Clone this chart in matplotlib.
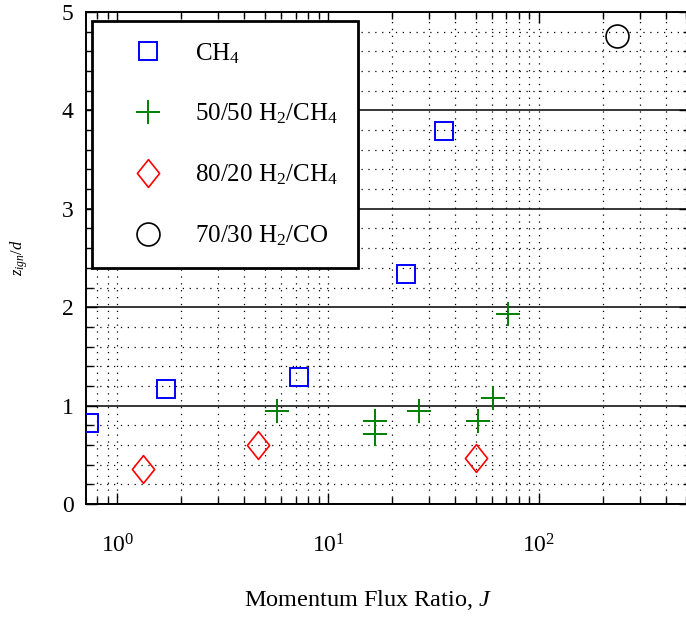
import matplotlib
matplotlib.use("Agg")
import matplotlib.pyplot as plt
from matplotlib.path import Path
from matplotlib.ticker import LogLocator, MultipleLocator, NullFormatter, LogFormatterMathtext

plt.rcParams["font.family"] = "serif"
plt.rcParams["font.serif"] = ["Liberation Serif", "DejaVu Serif"]
plt.rcParams["mathtext.fontset"] = "custom"
plt.rcParams["mathtext.rm"] = "Liberation Serif"
plt.rcParams["mathtext.it"] = "Liberation Serif:italic"
plt.rcParams["font.size"] = 16

# Ignition height vs momentum flux ratio
ch4_J = [0.735, 1.70, 7.25, 23.3, 35.4]
ch4_z = [0.82, 1.17, 1.29, 2.34, 3.79]

h2ch4_5050_J = [5.72, 16.6, 16.6, 26.9, 51.3, 60.4, 71.1]
h2ch4_5050_z = [0.95, 0.84, 0.71, 0.95, 0.84, 1.08, 1.93]

h2ch4_8020_J = [1.32, 4.65, 50.4]
h2ch4_8020_z = [0.36, 0.60, 0.47]

h2co_7030_J = [234.0]
h2co_7030_z = [4.76]

# slightly narrow diamond like the classic MATLAB marker
diamond = Path([(0, 1), (0.8, 0), (0, -1), (-0.8, 0), (0, 1)],
               [Path.MOVETO, Path.LINETO, Path.LINETO, Path.LINETO, Path.CLOSEPOLY])

fig = plt.figure(figsize=(6.86, 6.17), dpi=100)
ax = fig.add_axes([86 / 686, 113 / 617, 604 / 686, 492 / 617])

ax.plot(ch4_J, ch4_z, "s", ms=12.5, mfc="none", mec="#0000ff", mew=1.4,
        label="CH$_4$", zorder=5)
ax.plot(h2ch4_5050_J, h2ch4_5050_z, "+", ms=17, mec="#008000", mew=1.4,
        label="50/50 H$_2$/CH$_4$", zorder=5)
ax.plot(h2ch4_8020_J, h2ch4_8020_z, marker=diamond, ls="none", ms=20, mfc="none",
        mec="#ff0000", mew=1.2, label="80/20 H$_2$/CH$_4$", zorder=5)
ax.plot(h2co_7030_J, h2co_7030_z, "o", ms=16.5, mfc="none", mec="black", mew=1.2,
        label="70/30 H$_2$/CO", zorder=5)

ax.set_xscale("log")
ax.set_xlim(0.71, 520)
ax.set_ylim(0, 5)

ax.xaxis.set_major_locator(LogLocator(base=10))
ax.xaxis.set_major_formatter(LogFormatterMathtext())
ax.xaxis.set_minor_locator(LogLocator(base=10, subs=range(2, 10)))
ax.xaxis.set_minor_formatter(NullFormatter())
ax.yaxis.set_major_locator(MultipleLocator(1))
ax.yaxis.set_minor_locator(MultipleLocator(0.2))

ax.tick_params(which="both", direction="in", top=True, right=True, width=1)
ax.tick_params(which="major", length=8)
ax.tick_params(which="minor", length=5)
ax.tick_params(axis="x", which="major", pad=22, labelsize=17)
ax.tick_params(axis="y", which="major", pad=9, labelsize=17)

# dotted grid everywhere, solid lines at the integer heights
dots = (0, (1, 4.5))
ax.grid(True, axis="x", which="both", color="black", lw=0.9, ls=dots)
ax.grid(True, axis="y", which="minor", color="black", lw=0.9, ls=dots)
ax.grid(True, axis="y", which="major", color="black", lw=1.1, ls="-")

for sp in ax.spines.values():
    sp.set_linewidth(1.4)

ax.set_xlabel("Momentum Flux Ratio, $J$", fontsize=17.5)
ax.xaxis.set_label_coords((368 - 86) / 604, (504 - 588) / 492)
ax.set_ylabel("$z_{ign}/d$", fontsize=12)
ax.yaxis.set_label_coords((30 - 86) / 604, 0.5)

leg = ax.legend(loc="upper left", bbox_to_anchor=(6 / 604, 1 - 9 / 492),
                fontsize=18, frameon=True, fancybox=False, framealpha=1,
                edgecolor="black", borderpad=0.8, labelspacing=1.45,
                handlelength=2.9, handletextpad=0.42, borderaxespad=0)
leg.get_frame().set_linewidth(2)
leg.set_zorder(10)

fig.savefig("out.png", dpi=100)
